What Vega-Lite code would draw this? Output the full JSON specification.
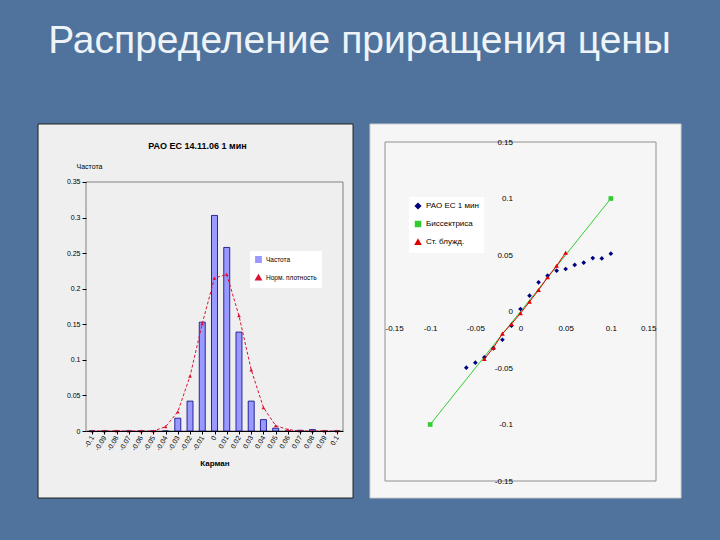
{
  "$schema": "https://vega.github.io/schema/vega-lite/v6.json",
  "background": "#4f739c",
  "padding": {"left": 37, "right": 40, "top": 22, "bottom": 42},
  "title": {"text": "Распределение приращения цены", "fontSize": 39, "font": "Liberation Sans", "fontWeight": "normal", "color": "#eef3f8", "anchor": "middle", "baseline": "alphabetic", "offset": 31},
  "spacing": 15,
  "resolve": {"scale": {"color": "independent", "shape": "independent"}, "legend": {"color": "independent", "shape": "independent"}},
  "config": {
    "view": {"stroke": null},
    "axis": {"labelFont": "Liberation Sans", "titleFont": "Liberation Sans", "grid": false, "labelColor": "#000", "titleColor": "#000", "tickColor": "#000", "domainColor": "#000"},
    "legend": {"labelFont": "Liberation Sans", "labelColor": "#000"}
  },
  "datasets": {
    "hist": [
      {"bin": -0.1, "series": "Частота", "value": 0},
      {"bin": -0.09, "series": "Частота", "value": 0},
      {"bin": -0.08, "series": "Частота", "value": 0},
      {"bin": -0.07, "series": "Частота", "value": 0},
      {"bin": -0.06, "series": "Частота", "value": 0},
      {"bin": -0.05, "series": "Частота", "value": 0},
      {"bin": -0.04, "series": "Частота", "value": 0},
      {"bin": -0.03, "series": "Частота", "value": 0.018},
      {"bin": -0.02, "series": "Частота", "value": 0.042},
      {"bin": -0.01, "series": "Частота", "value": 0.153},
      {"bin": 0, "series": "Частота", "value": 0.303},
      {"bin": 0.01, "series": "Частота", "value": 0.258},
      {"bin": 0.02, "series": "Частота", "value": 0.139},
      {"bin": 0.03, "series": "Частота", "value": 0.042},
      {"bin": 0.04, "series": "Частота", "value": 0.016},
      {"bin": 0.05, "series": "Частота", "value": 0.004},
      {"bin": 0.06, "series": "Частота", "value": 0},
      {"bin": 0.07, "series": "Частота", "value": 0.001},
      {"bin": 0.08, "series": "Частота", "value": 0.002},
      {"bin": 0.09, "series": "Частота", "value": 0},
      {"bin": 0.1, "series": "Частота", "value": 0},
      {"bin": -0.1, "series": "Норм. плотность", "value": 0},
      {"bin": -0.09, "series": "Норм. плотность", "value": 0},
      {"bin": -0.08, "series": "Норм. плотность", "value": 0},
      {"bin": -0.07, "series": "Норм. плотность", "value": 0},
      {"bin": -0.06, "series": "Норм. плотность", "value": 0},
      {"bin": -0.05, "series": "Норм. плотность", "value": 0},
      {"bin": -0.04, "series": "Норм. плотность", "value": 0.006},
      {"bin": -0.03, "series": "Норм. плотность", "value": 0.027},
      {"bin": -0.02, "series": "Норм. плотность", "value": 0.077},
      {"bin": -0.01, "series": "Норм. плотность", "value": 0.151},
      {"bin": 0, "series": "Норм. плотность", "value": 0.215},
      {"bin": 0.01, "series": "Норм. плотность", "value": 0.22},
      {"bin": 0.02, "series": "Норм. плотность", "value": 0.162},
      {"bin": 0.03, "series": "Норм. плотность", "value": 0.086},
      {"bin": 0.04, "series": "Норм. плотность", "value": 0.033},
      {"bin": 0.05, "series": "Норм. плотность", "value": 0.0075},
      {"bin": 0.06, "series": "Норм. плотность", "value": 0.002},
      {"bin": 0.07, "series": "Норм. плотность", "value": 0},
      {"bin": 0.08, "series": "Норм. плотность", "value": 0},
      {"bin": 0.09, "series": "Норм. плотность", "value": 0},
      {"bin": 0.1, "series": "Норм. плотность", "value": 0}
    ],
    "qq": [
      {"x": -0.06, "y": -0.0497, "series": "РАО ЕС 1 мин"},
      {"x": -0.05, "y": -0.0453, "series": "РАО ЕС 1 мин"},
      {"x": -0.04, "y": -0.0405, "series": "РАО ЕС 1 мин"},
      {"x": -0.03, "y": -0.0326, "series": "РАО ЕС 1 мин"},
      {"x": -0.02, "y": -0.025, "series": "РАО ЕС 1 мин"},
      {"x": -0.01, "y": -0.0126, "series": "РАО ЕС 1 мин"},
      {"x": 0, "y": 0.0022, "series": "РАО ЕС 1 мин"},
      {"x": 0.01, "y": 0.014, "series": "РАО ЕС 1 мин"},
      {"x": 0.02, "y": 0.0258, "series": "РАО ЕС 1 мин"},
      {"x": 0.03, "y": 0.0317, "series": "РАО ЕС 1 мин"},
      {"x": 0.04, "y": 0.0361, "series": "РАО ЕС 1 мин"},
      {"x": 0.05, "y": 0.0376, "series": "РАО ЕС 1 мин"},
      {"x": 0.06, "y": 0.0412, "series": "РАО ЕС 1 мин"},
      {"x": 0.07, "y": 0.0432, "series": "РАО ЕС 1 мин"},
      {"x": 0.08, "y": 0.0473, "series": "РАО ЕС 1 мин"},
      {"x": 0.09, "y": 0.047, "series": "РАО ЕС 1 мин"},
      {"x": 0.1, "y": 0.0512, "series": "РАО ЕС 1 мин"},
      {"x": -0.1, "y": -0.1, "series": "Биссектриса"},
      {"x": 0.1, "y": 0.1, "series": "Биссектриса"},
      {"x": -0.04, "y": -0.042, "series": "Ст. блужд."},
      {"x": -0.03, "y": -0.032, "series": "Ст. блужд."},
      {"x": -0.02, "y": -0.0196, "series": "Ст. блужд."},
      {"x": -0.01, "y": -0.011, "series": "Ст. блужд."},
      {"x": 0, "y": -0.0016, "series": "Ст. блужд."},
      {"x": 0.01, "y": 0.0087, "series": "Ст. блужд."},
      {"x": 0.02, "y": 0.019, "series": "Ст. блужд."},
      {"x": 0.03, "y": 0.0303, "series": "Ст. блужд."},
      {"x": 0.04, "y": 0.0405, "series": "Ст. блужд."},
      {"x": 0.05, "y": 0.052, "series": "Ст. блужд."}
    ]
  },
  "hconcat": [
    {
      "width": 257,
      "height": 289,
      "resolve": {"axis": {"x": "independent", "y": "independent"}},
      "layer": [
        {
          "data": {"values": [{}]},
          "mark": {"type": "rect", "fill": "#efefef", "stroke": "#202020", "strokeWidth": 1},
          "encoding": {
            "x": {"datum": -0.1442, "type": "quantitative", "scale": {"domainMin": -0.105, "domainMax": 0.105, "nice": false, "zero": false, "padding": 0}, "axis": {"orient": "top", "zindex": 1, "title": "РАО ЕС 14.11.06 1 мин", "labels": false, "ticks": false, "domain": false, "titleX": 111, "titleY": 3, "titleBaseline": "middle", "titleFontSize": 9, "titleFontWeight": "bold"}},
            "x2": {"datum": 0.1132},
            "y": {"datum": -0.0942, "type": "quantitative", "scale": {"domainMin": 0, "domainMax": 0.4062, "nice": false, "zero": false, "padding": 0}, "axis": null},
            "y2": {"datum": 0.4315}
          }
        },
        {
          "data": {"values": [{}]},
          "mark": {"type": "rect", "fillOpacity": 0, "stroke": "#808080", "strokeWidth": 1},
          "encoding": {
            "x": {"datum": -0.105, "type": "quantitative", "axis": null},
            "x2": {"datum": 0.105},
            "y": {"datum": 0, "type": "quantitative", "axis": null},
            "y2": {"datum": 0.35}
          }
        },
        {
          "data": {"name": "hist"},
          "transform": [{"filter": "datum.series === 'Частота'"}],
          "mark": {"type": "bar", "size": 6, "stroke": "#000080", "strokeWidth": 0.8},
          "encoding": {
            "x": {"field": "bin", "type": "quantitative", "axis": {"zindex": 1, "orient": "bottom", "values": [-0.1, -0.09, -0.08, -0.07, -0.06, -0.05, -0.04, -0.03, -0.02, -0.01, 0, 0.01, 0.02, 0.03, 0.04, 0.05, 0.06, 0.07, 0.08, 0.09, 0.1], "labelOverlap": false, "labelAngle": -60, "labelExpr": "(datum.value < 0 ? '-' : '') + format(abs(datum.value), '.2~f')", "labelFontSize": 7, "tickSize": 3, "title": "Карман", "titleFontSize": 8, "titleFontWeight": "bold", "titlePadding": 8}},
            "y": {"field": "value", "type": "quantitative", "axis": {"zindex": 1, "orient": "left", "values": [0, 0.05, 0.1, 0.15, 0.2, 0.25, 0.3, 0.35], "labelOverlap": false, "labelExpr": "format(datum.value, '.2~f')", "labelFontSize": 7, "tickSize": 4, "domain": false, "title": "Частота", "titleAngle": 0, "titleX": 3, "titleY": 24, "titleAlign": "center", "titleBaseline": "middle", "titleFontSize": 7, "titleFontWeight": "normal"}},
            "color": {"field": "series", "type": "nominal", "scale": {"domain": ["Частота", "Норм. плотность"], "range": ["#9999ff", "#dd1133"]}, "legend": {"orient": "none", "legendX": 164, "legendY": 109, "title": null, "fillColor": "#ffffff", "padding": 5, "labelFontSize": 6.5, "symbolSize": 28, "rowPadding": 6}}
          }
        },
        {
          "data": {"name": "hist"},
          "transform": [{"filter": "datum.series === 'Норм. плотность'"}],
          "mark": {"type": "line", "strokeDash": [3, 2], "strokeWidth": 1},
          "encoding": {
            "x": {"field": "bin", "type": "quantitative", "axis": null},
            "y": {"field": "value", "type": "quantitative", "axis": null},
            "color": {"field": "series", "type": "nominal"}
          }
        },
        {
          "data": {"name": "hist"},
          "transform": [{"filter": "datum.series === 'Норм. плотность'"}],
          "mark": {"type": "point", "filled": true, "size": 14, "opacity": 1},
          "encoding": {
            "x": {"field": "bin", "type": "quantitative", "axis": null},
            "y": {"field": "value", "type": "quantitative", "axis": null},
            "color": {"field": "series", "type": "nominal"},
            "shape": {"field": "series", "type": "nominal", "scale": {"domain": ["Частота", "Норм. плотность"], "range": ["square", "triangle-up"]}, "legend": {"orient": "none", "legendX": 164, "legendY": 109, "title": null, "fillColor": "#ffffff", "padding": 5, "labelFontSize": 6.5, "symbolSize": 28, "rowPadding": 6}}
          }
        }
      ]
    },
    {
      "width": 271,
      "height": 339,
      "resolve": {"axis": {"x": "independent", "y": "independent"}},
      "layer": [
        {
          "data": {"values": [{}]},
          "mark": {"type": "rect", "fill": "#f6f6f6", "stroke": "#d0d0d0", "strokeWidth": 1},
          "encoding": {
            "x": {"datum": -0.1666, "type": "quantitative", "scale": {"domainMin": -0.15, "domainMax": 0.15, "nice": false, "zero": false, "padding": 0}, "axis": null},
            "x2": {"datum": 0.1777},
            "y": {"datum": -0.165, "type": "quantitative", "scale": {"domainMin": -0.15, "domainMax": 0.15, "nice": false, "zero": false, "padding": 0}, "axis": null},
            "y2": {"datum": 0.1659}
          }
        },
        {
          "data": {"values": [{}]},
          "mark": {"type": "rect", "fillOpacity": 0, "stroke": "#909090", "strokeWidth": 1},
          "encoding": {
            "x": {"datum": -0.15, "type": "quantitative", "axis": null},
            "x2": {"datum": 0.15},
            "y": {"datum": -0.15, "type": "quantitative", "axis": null},
            "y2": {"datum": 0.15}
          }
        },
        {
          "data": {"name": "qq"},
          "transform": [{"filter": "datum.series === 'Биссектриса'"}],
          "mark": {"type": "line", "strokeWidth": 1},
          "encoding": {
            "x": {"field": "x", "type": "quantitative", "axis": null},
            "y": {"field": "y", "type": "quantitative", "axis": null},
            "color": {"field": "series", "type": "nominal"}
          }
        },
        {
          "data": {"name": "qq"},
          "transform": [{"filter": "datum.series === 'Ст. блужд.'"}],
          "mark": {"type": "line", "strokeWidth": 1},
          "encoding": {
            "x": {"field": "x", "type": "quantitative", "axis": null},
            "y": {"field": "y", "type": "quantitative", "axis": null},
            "color": {"field": "series", "type": "nominal"}
          }
        },
        {
          "data": {"name": "qq"},
          "mark": {"type": "point", "filled": true, "size": 22, "opacity": 1},
          "encoding": {
            "x": {"field": "x", "type": "quantitative", "axis": {"zindex": 1, "orient": "bottom", "offset": -169.5, "values": [-0.15, -0.1, -0.05, 0, 0.05, 0.1, 0.15], "labelOverlap": false, "labelExpr": "(datum.value < 0 ? '-' : '') + format(abs(datum.value), '.2~f')", "domain": false, "ticks": false, "labelPadding": 13, "labelFontSize": 8, "title": null}},
            "y": {"field": "y", "type": "quantitative", "axis": {"zindex": 1, "orient": "left", "offset": -135.5, "values": [-0.15, -0.1, -0.05, 0, 0.05, 0.1, 0.15], "labelOverlap": false, "labelExpr": "(datum.value < 0 ? '-' : '') + format(abs(datum.value), '.2~f')", "domain": false, "ticks": false, "labelPadding": 8, "labelFontSize": 8, "title": null}},
            "color": {"field": "series", "type": "nominal", "scale": {"domain": ["РАО ЕС 1 мин", "Биссектриса", "Ст. блужд."], "range": ["#000080", "#33cc33", "#e00000"]}, "legend": {"orient": "none", "legendX": 24, "legendY": 55, "title": null, "fillColor": "#ffffff", "padding": 5, "labelFontSize": 8, "symbolSize": 25, "rowPadding": 6}},
            "shape": {"field": "series", "type": "nominal", "scale": {"domain": ["РАО ЕС 1 мин", "Биссектриса", "Ст. блужд."], "range": ["diamond", "square", "triangle-up"]}, "legend": {"orient": "none", "legendX": 24, "legendY": 55, "title": null, "fillColor": "#ffffff", "padding": 5, "labelFontSize": 8, "symbolSize": 25, "rowPadding": 6}}
          }
        }
      ]
    }
  ]
}
